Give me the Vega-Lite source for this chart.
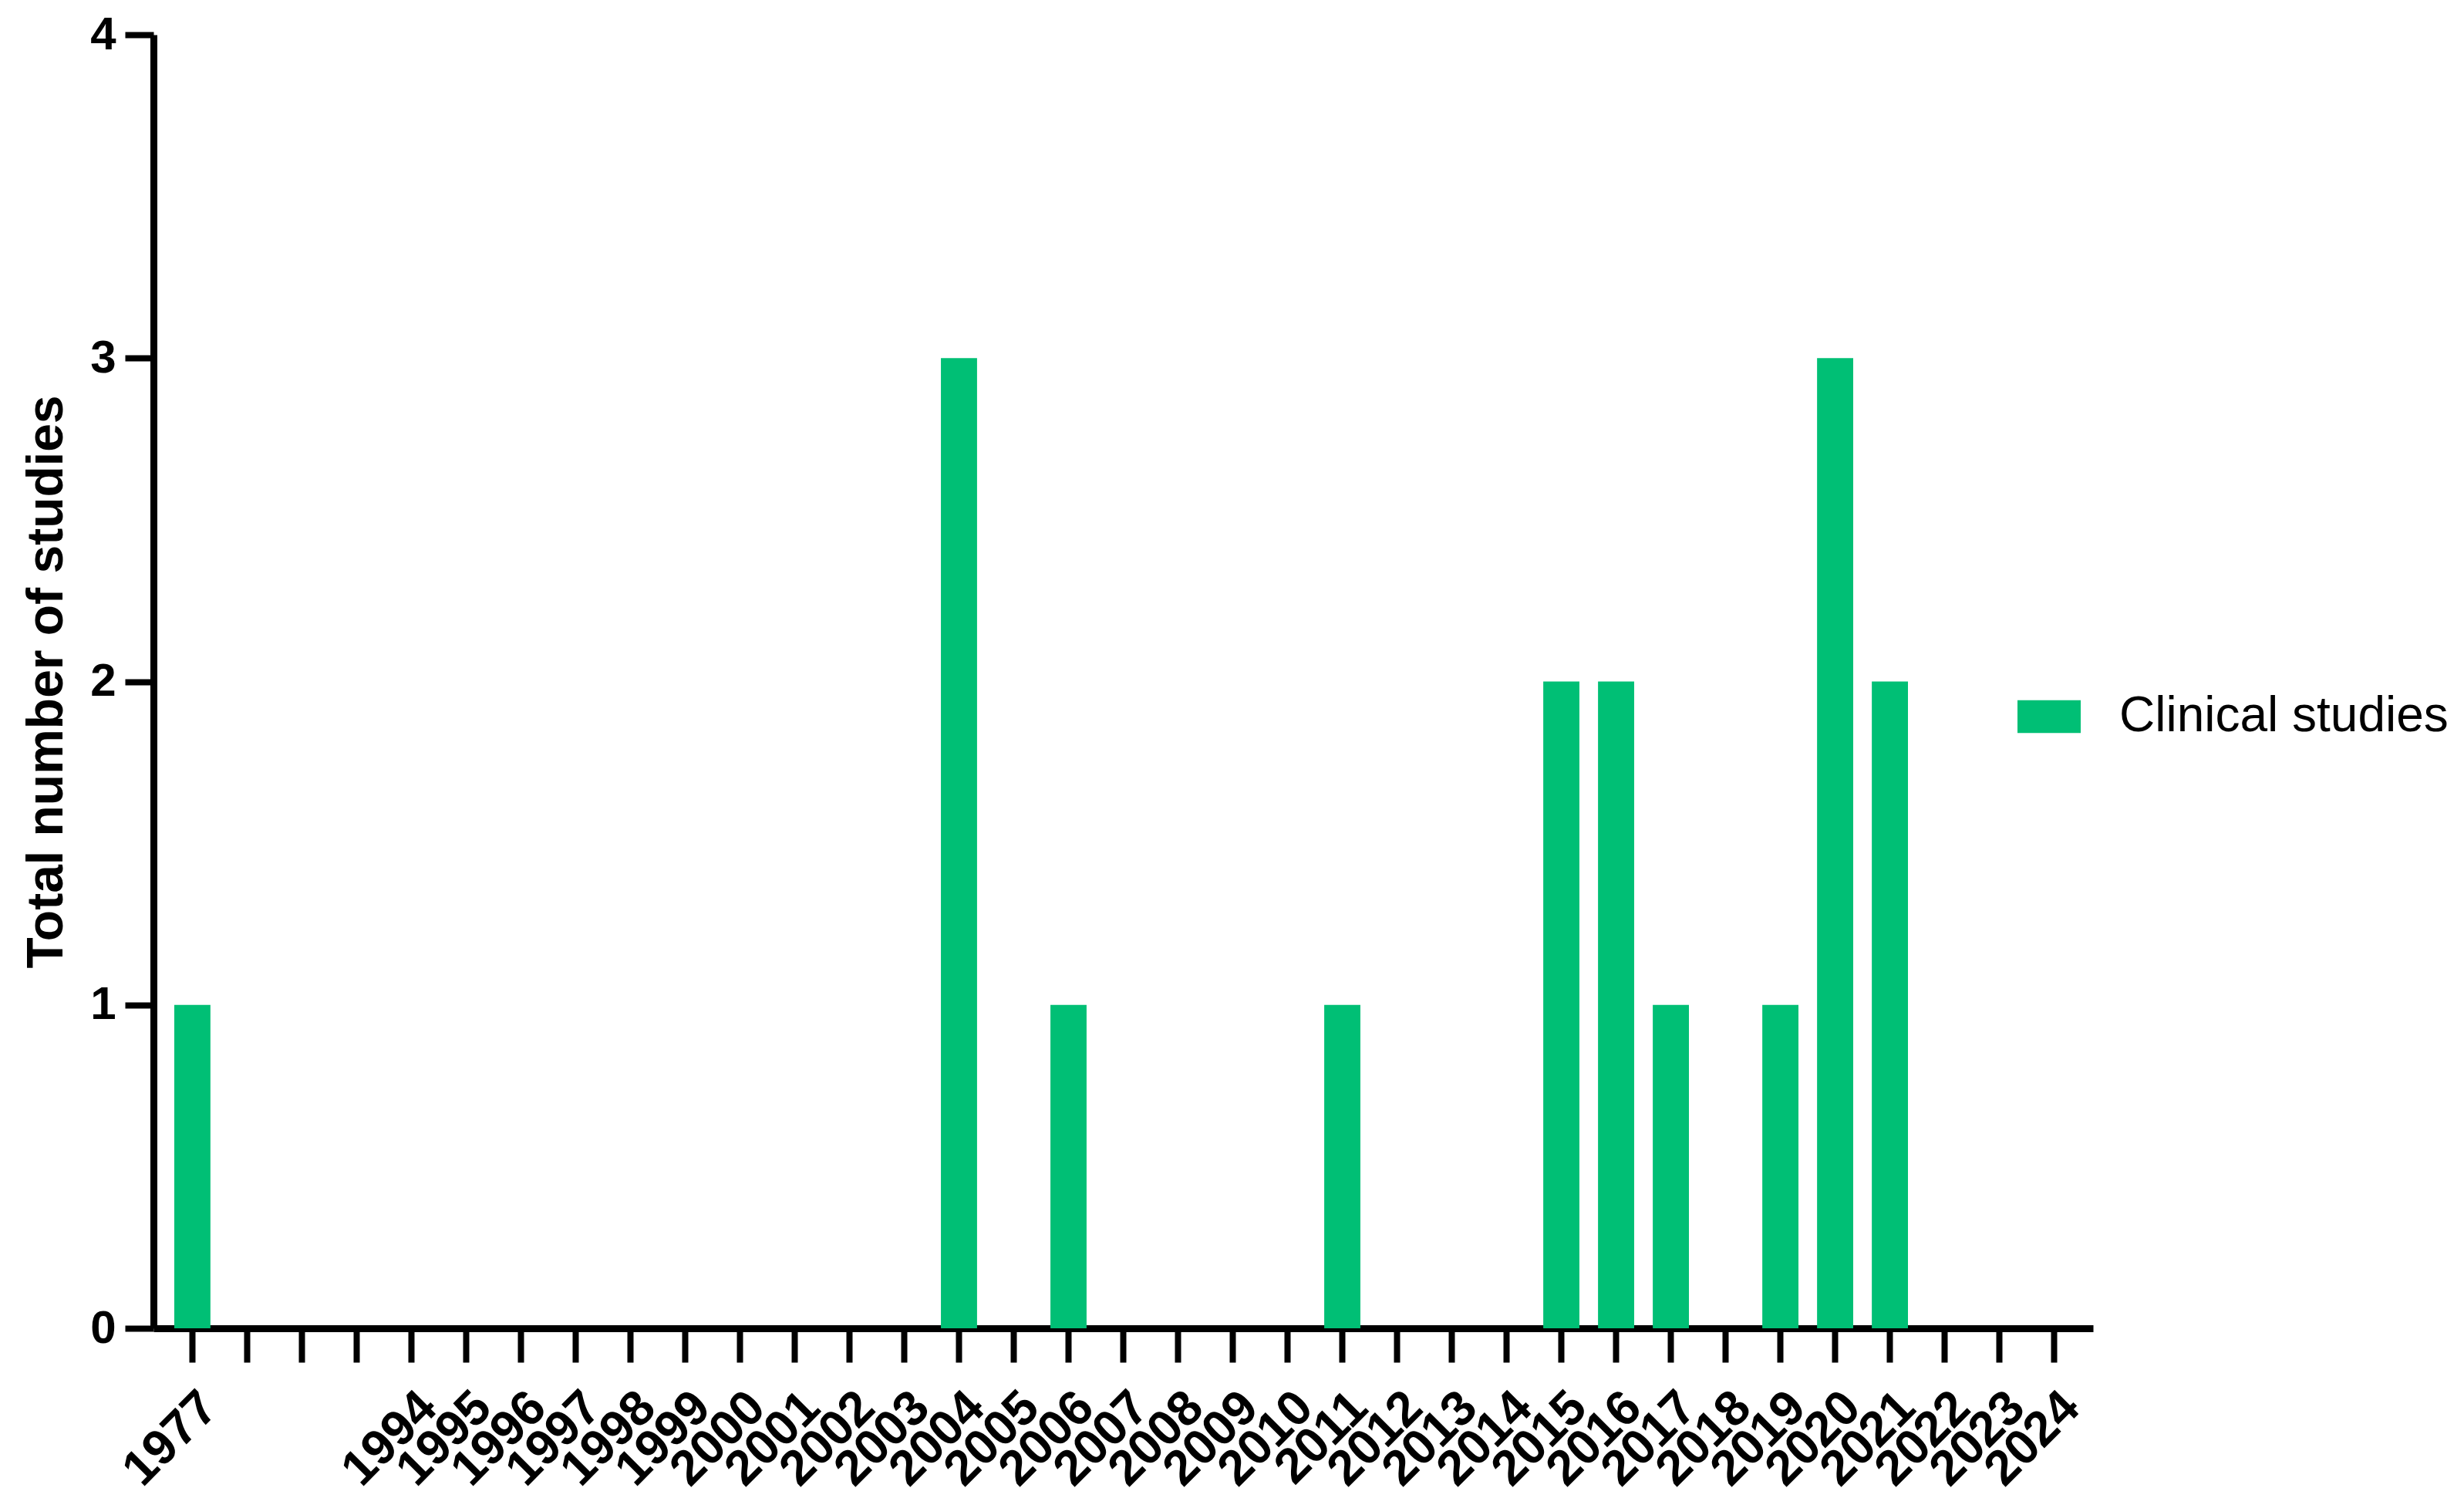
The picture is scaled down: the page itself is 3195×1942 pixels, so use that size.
{
  "$schema": "https://vega.github.io/schema/vega-lite/v6.json",
  "autosize": {"type": "none"},
  "padding": {"left": 199, "top": 45, "right": 481, "bottom": 220},
  "width": 2515,
  "height": 1677,
  "background": "white",
  "data": {
    "values": [
      {"year": "1977", "count": 1, "series": "Clinical studies"},
      {"year": "gap1", "count": 0, "series": "Clinical studies"},
      {"year": "gap2", "count": 0, "series": "Clinical studies"},
      {"year": "gap3", "count": 0, "series": "Clinical studies"},
      {"year": "1994", "count": 0, "series": "Clinical studies"},
      {"year": "1995", "count": 0, "series": "Clinical studies"},
      {"year": "1996", "count": 0, "series": "Clinical studies"},
      {"year": "1997", "count": 0, "series": "Clinical studies"},
      {"year": "1998", "count": 0, "series": "Clinical studies"},
      {"year": "1999", "count": 0, "series": "Clinical studies"},
      {"year": "2000", "count": 0, "series": "Clinical studies"},
      {"year": "2001", "count": 0, "series": "Clinical studies"},
      {"year": "2002", "count": 0, "series": "Clinical studies"},
      {"year": "2003", "count": 0, "series": "Clinical studies"},
      {"year": "2004", "count": 3, "series": "Clinical studies"},
      {"year": "2005", "count": 0, "series": "Clinical studies"},
      {"year": "2006", "count": 1, "series": "Clinical studies"},
      {"year": "2007", "count": 0, "series": "Clinical studies"},
      {"year": "2008", "count": 0, "series": "Clinical studies"},
      {"year": "2009", "count": 0, "series": "Clinical studies"},
      {"year": "2010", "count": 0, "series": "Clinical studies"},
      {"year": "2011", "count": 1, "series": "Clinical studies"},
      {"year": "2012", "count": 0, "series": "Clinical studies"},
      {"year": "2013", "count": 0, "series": "Clinical studies"},
      {"year": "2014", "count": 0, "series": "Clinical studies"},
      {"year": "2015", "count": 2, "series": "Clinical studies"},
      {"year": "2016", "count": 2, "series": "Clinical studies"},
      {"year": "2017", "count": 1, "series": "Clinical studies"},
      {"year": "2018", "count": 0, "series": "Clinical studies"},
      {"year": "2019", "count": 1, "series": "Clinical studies"},
      {"year": "2020", "count": 3, "series": "Clinical studies"},
      {"year": "2021", "count": 2, "series": "Clinical studies"},
      {"year": "2022", "count": 0, "series": "Clinical studies"},
      {"year": "2023", "count": 0, "series": "Clinical studies"},
      {"year": "2024", "count": 0, "series": "Clinical studies"}
    ]
  },
  "mark": {"type": "bar"},
  "encoding": {
    "x": {
      "field": "year",
      "type": "nominal",
      "sort": null,
      "scale": {"paddingInner": 0.34, "paddingOuter": 0.38},
      "axis": {
        "title": null,
        "labelExpr": "indexof(datum.label, 'gap') == 0 ? '' : datum.label",
        "labelAngle": -45,
        "labelAlign": "right",
        "labelBaseline": "top",
        "labelFont": "Liberation Sans",
        "labelFontWeight": "bold",
        "labelFontSize": 64,
        "labelColor": "black",
        "labelPadding": 26,
        "labelDx": 10,
        "labelOverlap": false,
        "labelBound": false,
        "labelFlush": false,
        "domainColor": "black",
        "domainWidth": 9,
        "tickColor": "black",
        "tickWidth": 8,
        "tickSize": 44,
        "grid": false
      }
    },
    "y": {
      "field": "count",
      "type": "quantitative",
      "scale": {"domain": [0, 4], "nice": false},
      "axis": {
        "title": "Total number of studies",
        "titleFont": "Liberation Sans",
        "titleFontWeight": "bold",
        "titleFontSize": 66,
        "titleColor": "black",
        "titlePadding": 22,
        "values": [0, 1, 2, 3, 4],
        "labelFont": "Liberation Sans",
        "labelFontWeight": "bold",
        "labelFontSize": 60,
        "labelColor": "black",
        "labelPadding": 12,
        "labelBaseline": "middle",
        "labelFlush": false,
        "labelBound": false,
        "domainColor": "black",
        "domainWidth": 9,
        "tickColor": "black",
        "tickWidth": 8,
        "tickSize": 37,
        "grid": false
      }
    },
    "color": {
      "field": "series",
      "type": "nominal",
      "scale": {"range": ["#00BF75"]},
      "legend": {
        "title": null,
        "orient": "none",
        "legendX": 2417,
        "legendY": 843,
        "padding": 0,
        "symbolType": "M-1,-0.52H1V0.52H-1Z",
        "symbolSize": 6724,
        "symbolStrokeWidth": 0,
        "labelFont": "Liberation Sans",
        "labelFontSize": 64,
        "labelColor": "black",
        "labelOffset": 50,
        "labelLimit": 1000
      }
    }
  },
  "config": {"view": {"stroke": null}}
}
